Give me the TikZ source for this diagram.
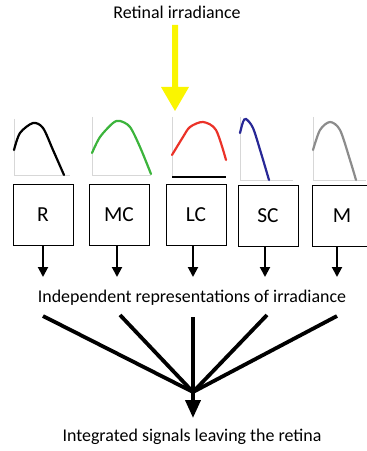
\documentclass[tikz,border=0pt]{standalone}
\usepackage{fontspec}
\setmainfont{Carlito}
\usepackage{tikz}
\usetikzlibrary{arrows.meta}

\definecolor{axisgray}{RGB}{215,215,215}
\definecolor{curvegreen}{RGB}{60,180,60}
\definecolor{curvered}{RGB}{235,50,40}
\definecolor{curveblue}{RGB}{40,40,150}
\definecolor{curvegray}{RGB}{140,140,140}
\definecolor{lightyellow}{RGB}{250,245,0}

\begin{document}
\begin{tikzpicture}[x=1bp,y=-1bp,
    cone/.style={draw, line width=0.8bp, minimum width=60bp, minimum height=61bp,
                 inner sep=0pt, font=\fontsize{21.5}{24}\selectfont},
    caption/.style={font=\fontsize{18}{21}\selectfont, inner sep=0pt},
    axis/.style={axisgray, line width=0.9bp},
    curve/.style={line width=2.2bp, line cap=round},
    down/.style={line width=2bp, -{Triangle[width=10bp,length=10bp]}},
    fan/.style={line width=3.8bp}]
  \useasboundingbox (0,0) rectangle (366,451);

  % Texts
  \node[caption] (light) at (177,12) {Retinal irradiance};
  \node[caption] (indep) at (192,298) {Independent representations of irradiance};
  \node[caption] (integ) at (192,437) {Integrated signals leaving the retina};

  % Yellow light arrow
  \fill[lightyellow] (172,25) -- (178,25) -- (178,87) -- (189,87) -- (175,111)
    -- (161,87) -- (172,87) -- cycle;

  % Spectral sensitivity plots
  \draw[axis] (14,119) -- (14,175) -- (70,175);
  \draw[curve, black] plot[smooth] coordinates
    {(14,150) (20,133) (33,123) (43,128) (53,150) (64,175)};
  \draw[axis] (92,117) -- (92,175) -- (151,175);
  \draw[curve, curvegreen] plot[smooth] coordinates
    {(92,153) (100,137) (113,123) (120,121) (130,127) (140,147) (151,174)};
  \draw[axis] (172,117) -- (172,177);
  \draw[curve, curvered] plot[smooth] coordinates
    {(172,155) (183,137) (190,127) (203,122) (216,130) (226,160)};
  \draw[line width=1.8bp] (172,177) -- (226,177);
  \draw[axis] (240,117) -- (240,180) -- (293,180);
  \draw[curve, curveblue] plot[smooth] coordinates
    {(240,133) (243,122) (246,119) (253,128) (261,153) (269,180)};
  \draw[axis] (313,117) -- (313,180) -- (366,180);
  \draw[curve, curvegray] plot[smooth] coordinates
    {(313,150) (320,130) (330,122) (340,130) (350,160) (356,180)};

  % Photoreceptor boxes
  \node[cone] (R)  at (43,215)  {R};
  \node[cone] (MC) at (119,215) {MC};
  \node[cone] (LC) at (196,215) {LC};
  \node[cone] (SC) at (268,216) {SC};
  \node[cone] (M)  at (342,215.5) {M};

  % Outputs of each class
  \foreach \c/\x in {R/43, MC/117, LC/193, SC/265, M/337} {
    \coordinate (\c-out) at (\x,277);
    \draw[down] (\x,246) -- (\c-out);
  }

  % Convergence
  \coordinate (hub) at (193,392);
  \coordinate (sink) at (193,418);
  \coordinate (f1) at (43,316);
  \coordinate (f2) at (120,315);
  \coordinate (f3) at (193,317);
  \coordinate (f4) at (267,315);
  \coordinate (f5) at (337,316);
  \foreach \f in {f1,f2,f4,f5}
    \draw[fan] (\f) -- (hub);
  \draw[fan, -{Triangle[width=15bp,length=18bp]}] (f3) -- (sink);
\end{tikzpicture}
\end{document}
